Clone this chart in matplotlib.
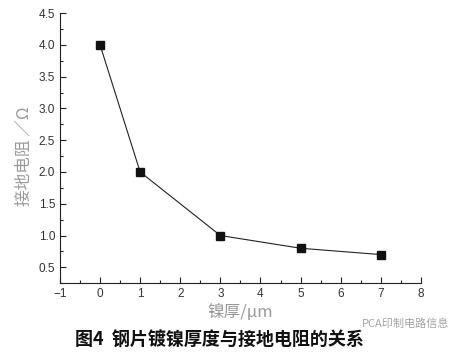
import matplotlib
matplotlib.use("Agg")
import matplotlib.pyplot as plt
from matplotlib.ticker import MultipleLocator

plt.rcParams['font.family'] = ['Liberation Sans', 'Noto Sans CJK SC', 'DejaVu Sans']

thickness = [0, 1, 3, 5, 7]
resistance = [4.0, 2.0, 1.0, 0.8, 0.7]

fig = plt.figure(figsize=(4.61, 3.54), dpi=100)
ax = fig.add_axes([0.130, 0.200, 0.783, 0.763])

ax.plot(thickness, resistance, color='#222222', lw=0.8, marker='s', ms=5.5,
        markerfacecolor='#111111', markeredgecolor='#111111')

ax.set_xlim(-1, 8)
ax.set_ylim(0.25, 4.5)
ax.xaxis.set_major_locator(MultipleLocator(1))
ax.xaxis.set_minor_locator(MultipleLocator(0.5))
ax.yaxis.set_minor_locator(MultipleLocator(0.25))
ax.set_yticks([0.5, 1.0, 1.5, 2.0, 2.5, 3.0, 3.5, 4.0, 4.5])
ax.set_yticklabels(['0.5', '1.0', '1.5', '2.0', '2.5', '3.0', '3.5', '4.0', '4.5'])

for s in ['top', 'right']:
    ax.spines[s].set_visible(False)
for s in ['left', 'bottom']:
    ax.spines[s].set_linewidth(0.8)
    ax.spines[s].set_color('#222222')

ax.tick_params(which='both', direction='in', colors='#222222', labelcolor='#333333',
               labelsize=8.5, width=0.8)
ax.tick_params(which='major', length=4)
ax.tick_params(which='minor', length=2.5)

ax.set_xlabel('镍厚/μm', family=['Noto Sans CJK SC', 'DejaVu Sans'], fontsize=12,
              color='#999999', labelpad=3)
ax.set_ylabel('接地电阻 ／Ω', family=['Noto Sans CJK SC', 'DejaVu Sans'], fontsize=12,
              color='#999999')
ax.yaxis.set_label_coords(-0.075, 0.47)

fig.text(0.475, 0.04, '图4  钢片镀镍厚度与接地电阻的关系', ha='center', va='center',
         family=['Noto Sans CJK SC'], fontsize=13, fontweight='bold', color='#111111')
fig.text(0.785, 0.085, 'PCA印制电路信息', ha='left', va='center',
         family=['Noto Sans CJK SC'], fontsize=8, color='#999999', alpha=0.9)

fig.savefig('out.png', dpi=100)
